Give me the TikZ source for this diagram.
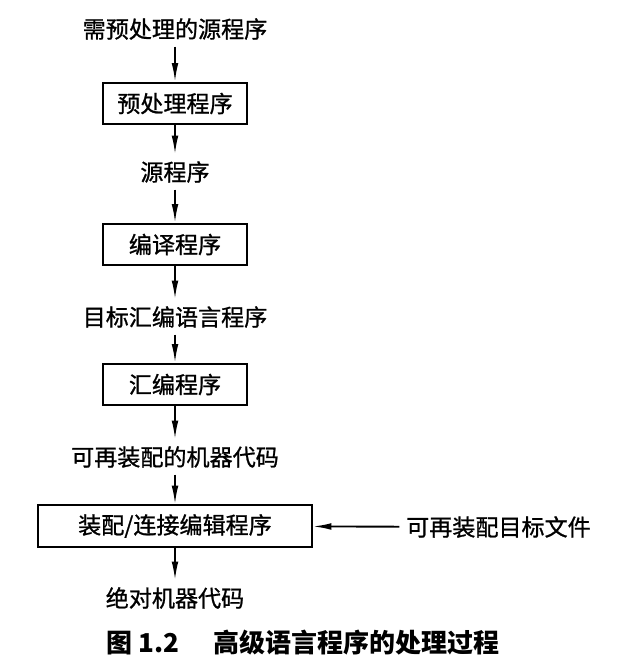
\documentclass[tikz,border=0pt]{standalone}
\usepackage{fontspec}
\setmainfont[FakeBold=1]{Noto Sans CJK SC}
\newfontfamily\capfont{Noto Sans CJK SC}
\usetikzlibrary{arrows.meta,positioning}

\begin{document}
\begin{tikzpicture}[x=0.75pt,y=-0.75pt,font=\fontsize{17.3}{20}\selectfont,
  >={Latex[length=14pt,width=5pt]},
  prog/.style={draw,line width=1.4pt,minimum width=108pt,minimum height=31pt,inner sep=0pt},
  data/.style={inner sep=5pt},
  arr/.style={->,line width=1.4pt}]
  \useasboundingbox (0,0) rectangle (620,672);
  \node[data] (src) at (175,29) {需预处理的源程序};
  \node[prog] (pre) at (175,103.5) {预处理程序};
  \node[data] (srcb) at (175,172) {源程序};
  \node[prog] (comp) at (175,244.5) {编译程序};
  \node[data] (asmsrc) at (175,317) {目标汇编语言程序};
  \node[prog] (asm) at (175,384.5) {汇编程序};
  \node[data] (reloc) at (175,457) {可再装配的机器代码};
  \node[prog,minimum width=205pt] (link) at (175,526) {装配/连接编辑程序};
  \node[data] (file) at (498.5,527) {可再装配目标文件};
  \node[data] (abs) at (175,598) {绝对机器代码};
  \node[anchor=west,inner sep=0pt,font=\fontsize{19.5}{22}\selectfont\capfont\bfseries] (cap) at (106,643)
    {图\hspace{0.25em}1.2\hspace{1.3em}高级语言程序的处理过程};
  \draw[arr] (src) -- (pre);
  \draw[arr] (pre) -- (srcb);
  \draw[arr] (srcb) -- (comp);
  \draw[arr] (comp) -- (asmsrc);
  \draw[arr] (asmsrc) -- (asm);
  \draw[arr] (asm) -- (reloc);
  \draw[arr] (reloc) -- (link);
  \draw[arr] (link) -- (abs);
  \draw[arr] (file) -- (link);
\end{tikzpicture}
\end{document}
